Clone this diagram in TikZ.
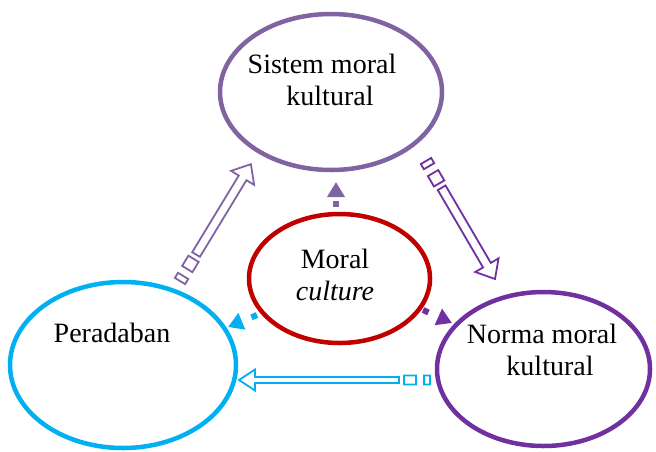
\documentclass[tikz,border=0pt]{standalone}
\usepackage{fontspec}
\setmainfont{Liberation Serif}
\usetikzlibrary{shapes.geometric,arrows.meta,calc}

\definecolor{topviolet}{HTML}{8064A2}
\definecolor{normpurple}{HTML}{7030A0}
\definecolor{civcyan}{HTML}{00B0F0}
\definecolor{corered}{HTML}{C00000}

\tikzset{
  circlebox/.style={ellipse, draw, line width=2.25pt, inner sep=0pt},
  label text/.style={font=\fontsize{14}{16}\selectfont, align=center},
  shortarrow/.style={line width=3pt, dash pattern=on 3pt off 10pt,
    -{Triangle[width=8.5pt 0 0,length=7.5pt 0 0]}},
  hollowarrow/.style={line width=0.9pt, line join=miter},
}

% striped hollow arrow: colour, tail, tip, shaft half width, head half width
\newcommand\stripedarrow[5]{%
  \draw[hollowarrow,draw=#1,fill=white] let \p1=($(#3)-(#2)$), \n1={atan2(\y1,\x1)}, \n2={veclen(\x1,\y1)} in
    [shift={(#2)}, rotate=\n1]
    (0pt,-#4-0.75pt) -- (3pt,-#4-0.75pt) -- (3pt,#4+0.75pt) -- (0pt,#4+0.75pt) -- cycle
    (7pt,-#4-0.75pt) -- (13pt,-#4-0.75pt) -- (13pt,#4+0.75pt) -- (7pt,#4+0.75pt) -- cycle
    (15.5pt,-#4) -- (\n2-8pt,-#4) -- (\n2-8pt,-#5) -- (\n2,0pt) -- (\n2-8pt,#5)
      -- (\n2-8pt,#4) -- (15.5pt,#4) -- cycle;
}

\begin{document}
\begin{tikzpicture}[x=0.5pt, y=-0.5pt]
  \useasboundingbox (0,0) rectangle (656,451);

  % ellipses
  \node[circlebox, topviolet, minimum width=111pt, minimum height=78pt] (sistem) at (331,92) {};
  \node[circlebox, civcyan, minimum width=113pt, minimum height=83pt] (peradaban) at (123,365) {};
  \node[circlebox, normpurple, minimum width=106.5pt, minimum height=77pt] (norma) at (543.5,369) {};
  \node[circlebox, corered, minimum width=90.5pt, minimum height=64.5pt] (moral) at (339.5,278.5) {};

  % texts
  \node[label text] (sistem-txt) at (322,80) {Sistem moral\\\hspace*{8pt}kultural};
  \node[label text] (peradaban-txt) at (112,333) {Peradaban};
  \node[label text] (norma-txt) at (542,350) {Norma moral\\\hspace*{8pt}kultural};
  \node[label text] (moral-txt) at (335,275) {Moral\\\textit{culture}};

  % short dashed arrows out of the centre
  \coordinate (up-tail) at (336,207);
  \coordinate (up-tip) at (336,182);
  \coordinate (left-tail) at (257,315);
  \coordinate (left-tip) at (228,327);
  \coordinate (right-tail) at (423,310);
  \coordinate (right-tip) at (452,323);
  \draw[shortarrow, topviolet] (up-tail) -- (up-tip);
  \draw[shortarrow, civcyan] (left-tail) -- (left-tip);
  \draw[shortarrow, normpurple] (right-tail) -- (right-tip);

  % hollow arrows round the cycle
  \coordinate (civ-tail) at (180,281);
  \coordinate (civ-tip) at (251,164);
  \coordinate (sis-tail) at (426,161);
  \coordinate (sis-tip) at (495,279);
  \coordinate (norm-tail) at (430,380);
  \coordinate (norm-tip) at (239,380);
  \stripedarrow{topviolet}{civ-tail}{civ-tip}{2.25pt}{6.75pt}
  \stripedarrow{normpurple}{sis-tail}{sis-tip}{2.25pt}{6.75pt}
  \stripedarrow{civcyan}{norm-tail}{norm-tip}{1.5pt}{5.25pt}
\end{tikzpicture}
\end{document}
